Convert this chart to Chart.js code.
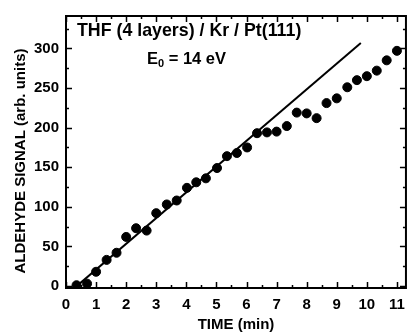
<!DOCTYPE html>
<html>
<head>
<meta charset="utf-8">
<script src="https://cdn.jsdelivr.net/npm/chart.js@4.4.1/dist/chart.umd.min.js"></script>
<style>
html, body { margin: 0; padding: 0; background: #fff; }
#wrap { width: 413px; height: 334px; }
</style>
</head>
<body>
<div id="wrap"><canvas id="myChart" width="413" height="334"></canvas></div>
<script>
// measured points (time in min, signal in arb. units)
const timeMin = [0.35, 0.7, 1.0, 1.35, 1.68, 2.0, 2.33, 2.68, 3.0, 3.35, 3.68, 4.02, 4.33, 4.65, 5.02, 5.35, 5.68, 6.02, 6.35, 6.68, 7.0, 7.34, 7.67, 8.0, 8.33, 8.66, 9.0, 9.35, 9.67, 10.0, 10.33, 10.66, 11.0];
const signal = [1, 3, 18, 33, 42, 62, 73, 70, 92, 103, 108, 124, 131, 136, 149, 164, 168, 175, 193, 194, 195, 202, 219, 218, 212, 231, 237, 251, 260, 265, 272, 285, 297];

// straight line fit
const fitTime = [0.3, 9.8];
const fitSignal = [-2, 307];

const xTicks = [0, 1, 2, 3, 4, 5, 6, 7, 8, 9, 10, 11];
const yTicks = [0, 50, 100, 150, 200, 250, 300];

const FAMILY = "'Liberation Sans', Arial, sans-serif";
const font = { family: FAMILY, weight: 'bold', size: 15 };

// frame, inward ticks on all sides and the text in the plot
const framePlugin = {
    id: 'frame',
    afterDraw(chart) {
        const c = chart.ctx;
        const a = chart.chartArea;
        const xs = chart.scales.x, ys = chart.scales.y;
        c.save();
        c.strokeStyle = '#000';
        c.lineWidth = 2;
        c.strokeRect(a.left, a.top, a.right - a.left, a.bottom - a.top);

        c.lineWidth = 1.5;
        c.beginPath();
        for (let v = 0; v <= 11.3; v += 0.5) {
            const px = Math.round(xs.getPixelForValue(v)) + 0.5;
            const len = Number.isInteger(v) ? 6 : 3;
            c.moveTo(px, a.bottom); c.lineTo(px, a.bottom - len);
            c.moveTo(px, a.top); c.lineTo(px, a.top + len);
        }
        for (let v = 0; v <= 340; v += 25) {
            const py = Math.round(ys.getPixelForValue(v)) + 0.5;
            const len = v % 50 === 0 ? 6 : 3;
            c.moveTo(a.left, py); c.lineTo(a.left + len, py);
            c.moveTo(a.right, py); c.lineTo(a.right - len, py);
        }
        c.stroke();

        c.fillStyle = '#000';
        c.textBaseline = 'alphabetic';
        c.textAlign = 'left';
        c.font = 'bold 17.8px ' + FAMILY;
        c.fillText('THF (4 layers) / Kr / Pt(111)', 77, 36);

        c.font = 'bold 16.5px ' + FAMILY;
        c.fillText('E', 147, 64);
        let w = c.measureText('E').width;
        c.font = 'bold 11px ' + FAMILY;
        c.fillText('0', 147 + w, 67);
        const w0 = c.measureText('0').width;
        c.font = 'bold 16.5px ' + FAMILY;
        c.fillText(' = 14 eV', 147 + w + w0, 64);

        // y axis title
        c.font = 'bold 15px ' + FAMILY;
        c.translate(21, 161);
        c.rotate(-Math.PI / 2);
        c.textAlign = 'center';
        c.textBaseline = 'middle';
        c.fillText('ALDEHYDE SIGNAL (arb. units)', 0, 0);
        c.restore();
    }
};

new Chart(document.getElementById('myChart').getContext('2d'), {
    type: 'scatter',
    data: {
        datasets: [{
            label: 'fit',
            type: 'line',
            data: fitTime.map((t, i) => ({ x: t, y: fitSignal[i] })),
            borderColor: '#000',
            borderWidth: 2,
            pointRadius: 0,
            fill: false
        }, {
            label: 'signal',
            data: timeMin.map((t, i) => ({ x: t, y: signal[i] })),
            backgroundColor: '#000',
            borderColor: '#000',
            pointRadius: 4.5,
            pointHoverRadius: 4.5
        }]
    },
    options: {
        responsive: false,
        animation: false,
        devicePixelRatio: 1,
        layout: { padding: { top: 12, right: 5, left: 0, bottom: 0 } },
        plugins: { legend: { display: false }, tooltip: { enabled: false } },
        scales: {
            x: {
                type: 'linear',
                min: 0,
                max: 11.3,
                afterBuildTicks: s => { s.ticks = xTicks.map(v => ({ value: v })); },
                afterFit: s => { s.height = 46; },
                grid: { display: false, drawTicks: false },
                border: { display: false },
                ticks: { color: '#000', font: font, padding: 8, maxRotation: 0, autoSkip: false },
                title: { display: true, text: 'TIME (min)', color: '#000', font: font, padding: { top: 3, bottom: 0 } }
            },
            y: {
                type: 'linear',
                min: -2.5,
                max: 341,
                afterBuildTicks: s => { s.ticks = yTicks.map(v => ({ value: v })); },
                afterFit: s => { s.width = 66; },
                grid: { display: false, drawTicks: false },
                border: { display: false },
                ticks: { color: '#000', font: font, padding: 7 }
            }
        }
    },
    plugins: [framePlugin]
});
</script>
</body>
</html>
